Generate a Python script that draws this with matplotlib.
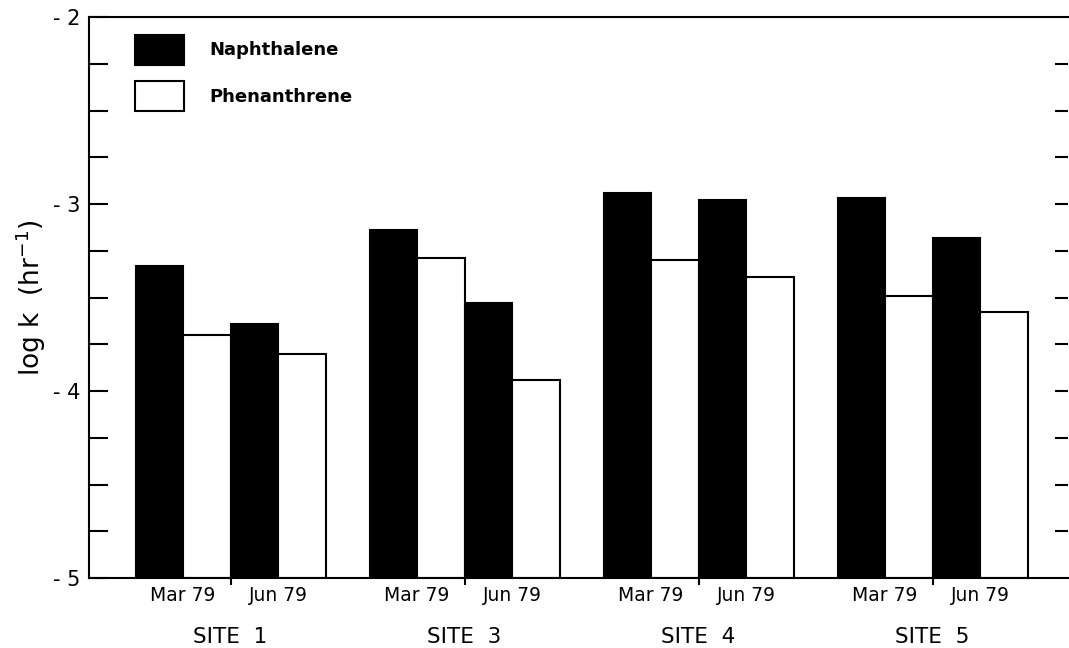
import matplotlib
matplotlib.use("Agg")
import matplotlib.pyplot as plt
import numpy as np
from matplotlib.patches import Patch

# values (log k, hr^-1)
SITES = ["SITE  1", "SITE  3", "SITE  4", "SITE  5"]
SEASONS = ["Mar 79", "Jun 79"]
NAPH_MAR = [-3.33, -3.14, -2.94, -2.97]
PHEN_MAR = [-3.70, -3.29, -3.30, -3.49]
NAPH_JUN = [-3.64, -3.53, -2.98, -3.18]
PHEN_JUN = [-3.80, -3.94, -3.39, -3.58]

Y_MAJOR = [-5, -4, -3, -2]
Y_MAJOR_LABELS = ["- 5", "- 4", "- 3", "- 2"]
BASE = -5.0
W = 0.203
LW = 1.5

plt.rcParams["font.family"] = ["DejaVu Sans"]

fig = plt.figure(figsize=(10.69, 6.48), dpi=100)
ax = fig.add_axes([89 / 1069, 1 - 578 / 648, (1068 - 89) / 1069, (578 - 17) / 648])

x = np.arange(len(SITES))
series = [
    (NAPH_MAR, -1.5, "black"),
    (PHEN_MAR, -0.5, "white"),
    (NAPH_JUN, 0.5, "black"),
    (PHEN_JUN, 1.5, "white"),
]
for vals, off, fc in series:
    v = np.array(vals)
    ax.bar(x + off * W, v - BASE, W, bottom=BASE, color=fc,
           edgecolor="black", linewidth=LW, zorder=2)

ax.set_xlim(-0.605, 3.579)
ax.set_ylim(-5, -2)

# y ticks, left
ax.set_yticks(Y_MAJOR)
ax.set_yticklabels(Y_MAJOR_LABELS, fontsize=15)
ax.set_yticks(np.arange(-5, -2, 0.25), minor=True)
ax.tick_params(axis="y", which="both", direction="in", length=14, width=LW, pad=6)
ax.set_ylabel("log k  (hr$^{-1}$)", fontsize=19, labelpad=4)

# right-hand ticks only
axr = ax.twinx()
axr.set_ylim(ax.get_ylim())
axr.set_yticks(np.arange(-4.75, -2, 0.25))
axr.set_yticklabels([])
axr.tick_params(axis="y", direction="in", length=9.5, width=LW)
for sp in axr.spines.values():
    sp.set_visible(False)

# x ticks: season labels under each pair, small marks between pairs
pair_pos = np.concatenate([x - W, x + W])
pair_lab = [SEASONS[0]] * len(SITES) + [SEASONS[1]] * len(SITES)
ax.set_xticks(pair_pos)
ax.set_xticklabels(pair_lab, fontsize=13.5)
ax.tick_params(axis="x", which="major", length=0, pad=6)
ax.set_xticks(x, minor=True)
ax.tick_params(axis="x", which="minor", direction="out", length=5, width=LW)

for xi, name in zip(x, SITES):
    ax.text(xi, -0.105, name, transform=ax.get_xaxis_transform(),
            ha="center", va="center", fontsize=15.5)

for side in ("left", "bottom", "top"):
    ax.spines[side].set_linewidth(LW)
ax.spines["right"].set_visible(False)

handles = [Patch(facecolor="black", edgecolor="black", linewidth=LW),
           Patch(facecolor="white", edgecolor="black", linewidth=LW)]
leg = ax.legend(handles, ["Naphthalene", "Phenanthrene"], loc="upper left",
                bbox_to_anchor=(0.030, 0.997), frameon=False,
                handlelength=2.75, handleheight=2.15, labelspacing=0.92,
                handletextpad=1.4, prop={"size": 13, "weight": "bold"})

fig.savefig("out.png", dpi=100)
